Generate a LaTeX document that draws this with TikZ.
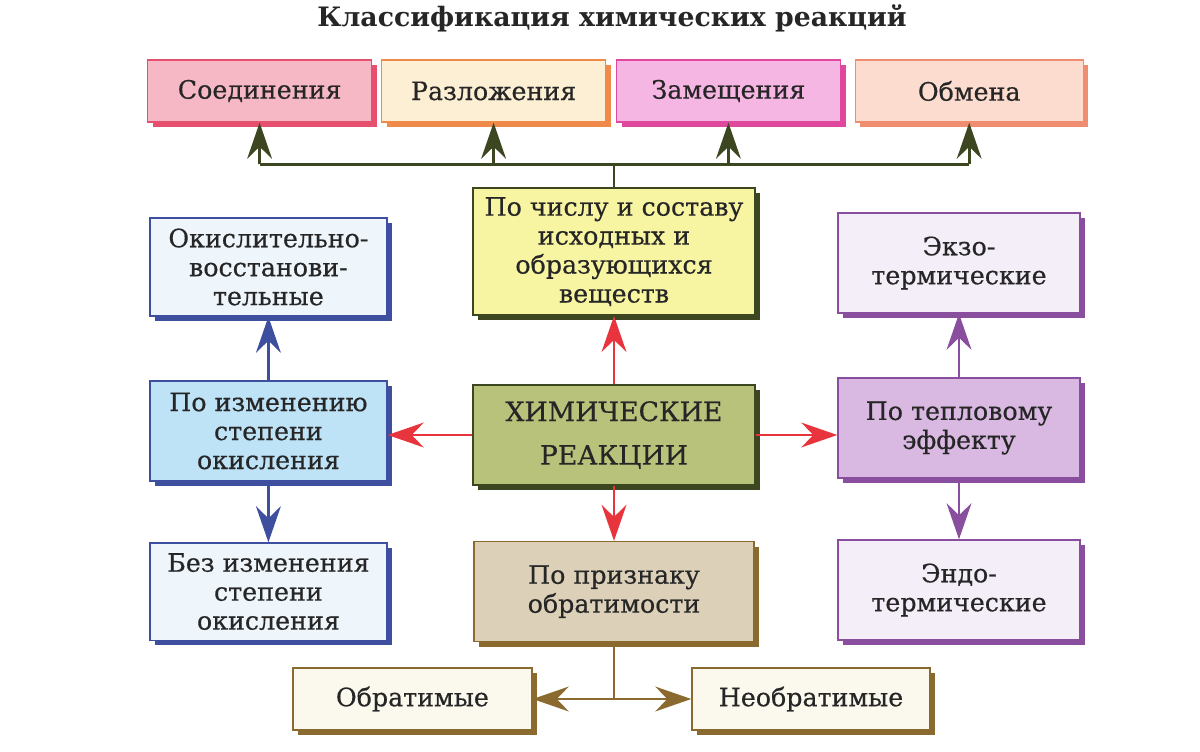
\documentclass[tikz,border=0pt]{standalone}
\usepackage{fontspec}
\setmainfont{DejaVu Serif}
\newfontfamily\boxfont[FakeBold=0.5]{DejaVu Serif}
\usetikzlibrary{arrows.meta, positioning, calc, shadows}
\definecolor{cpink}{HTML}{E4506E}
\definecolor{cpinkfill}{HTML}{F6B8C4}
\definecolor{corange}{HTML}{F08A4A}
\definecolor{corangefill}{HTML}{FDEFD3}
\definecolor{cmagenta}{HTML}{E0489E}
\definecolor{cmagentafill}{HTML}{F5B6E4}
\definecolor{csalmon}{HTML}{F08C70}
\definecolor{csalmonfill}{HTML}{FCDCCF}
\definecolor{colive}{HTML}{3C4620}
\definecolor{cyellowfill}{HTML}{F7F4A2}
\definecolor{cgreenfill}{HTML}{B9C27A}
\definecolor{cblue}{HTML}{3E4FA0}
\definecolor{cbluefill}{HTML}{BEE2F6}
\definecolor{cbluelight}{HTML}{EEF6FC}
\definecolor{cpurple}{HTML}{8A4E9E}
\definecolor{cpurplefill}{HTML}{D9B9E2}
\definecolor{cpurplelight}{HTML}{F4EEF8}
\definecolor{cbrown}{HTML}{8A6A2E}
\definecolor{cbrownfill}{HTML}{DCD0B8}
\definecolor{cbrownlight}{HTML}{FBF8EE}
\definecolor{cred}{HTML}{E8343C}
\tikzset{
  every picture/.style={line width=1.2pt},
  box/.style={draw=#1, line width=1pt, align=center, inner sep=0pt, minimum height=2.5cm,
    font=\boxfont\fontsize{18}{20.6}\selectfont, text=black!85,
    drop shadow={shadow xshift=0.13cm, shadow yshift=-0.13cm, fill=#1, opacity=1}},
  box/.default=colive,
  arrow/.style={-{Stealth[length=0.9cm, width=0.62cm, inset=0.3cm]}, draw=#1, line width=2pt},
  link/.style={draw=#1, line width=2pt},
  title/.style={font=\fontsize{19}{22}\selectfont\bfseries, text=black!85},
}

\begin{document}
\begin{tikzpicture}
  \useasboundingbox (0,0) rectangle (30,-18.8);
  \node[title] (head) at (15.3,-0.45) {Классификация химических реакций};

  % top row: kinds by number and composition
  \node[box=cpink, fill=cpinkfill, minimum width=5.6cm, minimum height=1.55cm] (soed) at (6.49,-2.275) {Соединения};
  \node[box=corange, fill=corangefill, minimum width=5.6cm, minimum height=1.55cm] (razl) at (12.34,-2.275) {Разложения};
  \node[box=cmagenta, fill=cmagentafill, minimum width=5.6cm, minimum height=1.55cm] (zam) at (18.21,-2.275) {Замещения};
  \node[box=csalmon, fill=csalmonfill, minimum width=5.7cm, minimum height=1.55cm] (obmen) at (24.23,-2.275) {Обмена};

  % centre column
  \node[box, fill=cyellowfill, minimum width=7.05cm, minimum height=3.18cm] (sostav) at (15.35,-6.29)
    {По числу и составу\\исходных и\\образующихся\\веществ};
  \node[box, fill=cgreenfill, minimum width=7.05cm, font=\boxfont\fontsize{19}{31}\selectfont] (main) at (15.35,-10.875)
    {ХИМИЧЕСКИЕ\\РЕАКЦИИ};
  \node[box=cbrown, fill=cbrownfill, minimum width=7cm] (obrat) at (15.35,-14.79)
    {По признаку\\обратимости};

  % left column
  \node[box=cblue, fill=cbluelight, minimum width=5.93cm, minimum height=2.45cm] (redox) at (6.71,-6.675)
    {Окислительно-\\восстанови-\\тельные};
  \node[box=cblue, fill=cbluefill, minimum width=5.93cm] (okisl) at (6.71,-10.775)
    {По изменению\\степени\\окисления};
  \node[box=cblue, fill=cbluelight, minimum width=5.93cm, minimum height=2.43cm] (bez) at (6.71,-14.79)
    {Без изменения\\степени\\окисления};

  % right column
  \node[box=cpurple, fill=cpurplelight, minimum width=6.05cm] (ekzo) at (23.975,-6.575)
    {Экзо-\\термические};
  \node[box=cpurple, fill=cpurplefill, minimum width=6.05cm] (teplo) at (23.975,-10.7)
    {По тепловому\\эффекту};
  \node[box=cpurple, fill=cpurplelight, minimum width=6.05cm] (endo) at (23.975,-14.75)
    {Эндо-\\термические};

  % bottom row
  \node[box=cbrown, fill=cbrownlight, minimum width=5.98cm, minimum height=1.55cm] (obr) at (10.31,-17.475) {Обратимые};
  \node[box=cbrown, fill=cbrownlight, minimum width=5.95cm, minimum height=1.55cm] (neobr) at (20.275,-17.475) {Необратимые};

  % connectors
  \coordinate (hub) at ($(sostav.north)+(0,0.575)$);
  \draw[link=colive] (sostav.north) -- (hub);
  \draw[link=colive] (hub -| soed.south) -- (hub -| obmen.south);
  \foreach \n in {soed,razl,zam,obmen}
    \draw[arrow=colive] (hub -| \n.south) -- (\n.south);

  \draw[arrow=cred] (main.north) -- (sostav.south);
  \draw[arrow=cred] (main.south) -- (obrat.north);
  \draw[arrow=cred] (main.west) -- (main.west -| okisl.east);
  \draw[arrow=cred] (main.east) -- (main.east -| teplo.west);

  \draw[arrow=cblue] (okisl.north) -- (redox.south);
  \draw[arrow=cblue] (okisl.south) -- (bez.north);
  \draw[arrow=cpurple] (teplo.north) -- (ekzo.south);
  \draw[arrow=cpurple] (teplo.south) -- (endo.north);

  \coordinate (fork) at (obrat.south |- obr.east);
  \draw[link=cbrown] (obrat.south) -- (fork);
  \draw[arrow=cbrown] (fork) -- (obr.east);
  \draw[arrow=cbrown] (fork) -- (neobr.west);
\end{tikzpicture}
\end{document}
